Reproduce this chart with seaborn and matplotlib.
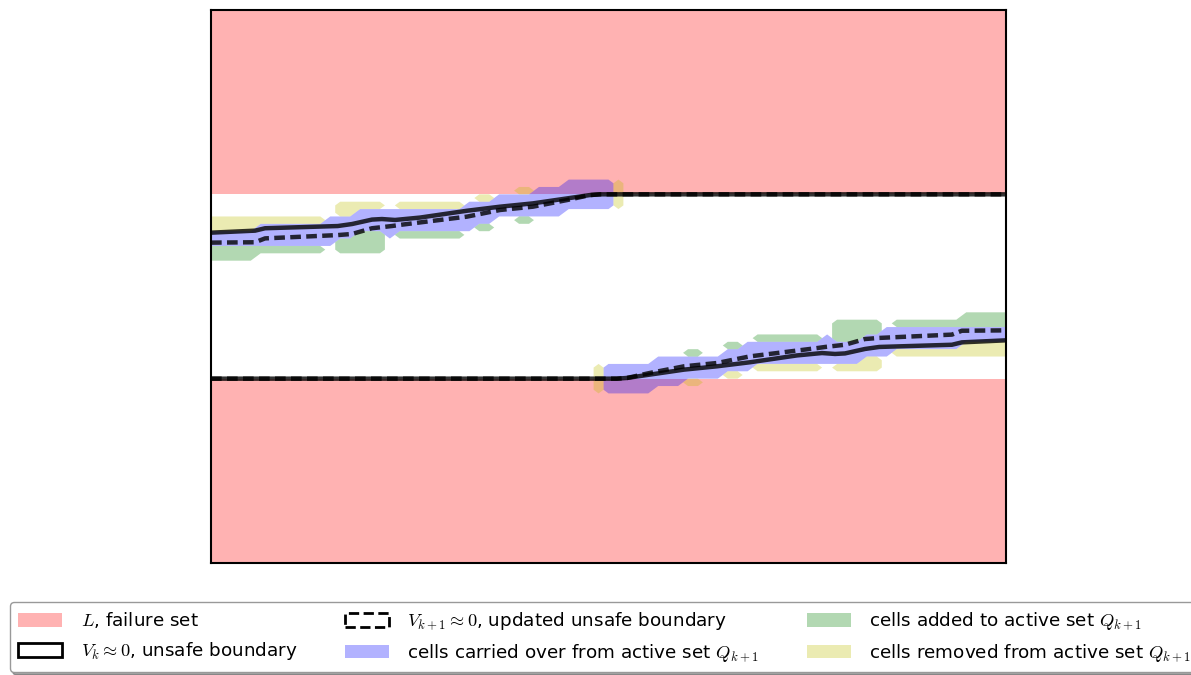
import numpy as np
import matplotlib
matplotlib.use("Agg")
import matplotlib.pyplot as plt
from matplotlib.patches import Patch
import seaborn as sns

# ---------------- data ----------------
# failure set L : |y| > 0.5
failure_x = [-1.0, 1.0]
failure_upper = [0.5, 1.5]
failure_lower = [-1.5, -0.5]

# V_k ~ 0 (solid) and V_{k+1} ~ 0 (dashed) boundaries, upper branch
upper_solid_x = [-1.0, -0.889, -0.864, -0.681, -0.645, -0.595, -0.570, -0.537, -0.474,
                 -0.356, -0.273, -0.190, -0.104, -0.047, -0.021, 1.0]
upper_solid_y = [0.292, 0.303, 0.316, 0.328, 0.339, 0.363, 0.366, 0.361, 0.374,
                 0.411, 0.433, 0.451, 0.478, 0.496, 0.5, 0.5]
upper_dashed_x = [-1.0, -0.889, -0.864, -0.681, -0.645, -0.595, -0.545, -0.525, -0.356,
                  -0.273, -0.190, -0.104, -0.047, -0.021, 1.0]
upper_dashed_y = [0.238, 0.240, 0.261, 0.279, 0.285, 0.316, 0.328, 0.334, 0.379,
                  0.415, 0.433, 0.469, 0.496, 0.5, 0.5]
# lower branch
lower_solid_x = [-1.0, 0.021, 0.047, 0.104, 0.190, 0.273, 0.356, 0.474, 0.537, 0.570,
                 0.595, 0.645, 0.681, 0.864, 0.889, 1.0]
lower_solid_y = [-0.5, -0.5, -0.496, -0.478, -0.451, -0.433, -0.411, -0.374, -0.361, -0.366,
                 -0.363, -0.339, -0.328, -0.316, -0.303, -0.292]
lower_dashed_x = [-1.0, 0.021, 0.047, 0.104, 0.190, 0.273, 0.356, 0.525, 0.545, 0.595,
                  0.645, 0.681, 0.864, 0.889, 1.0]
lower_dashed_y = [-0.5, -0.5, -0.496, -0.469, -0.433, -0.415, -0.379, -0.334, -0.328, -0.316,
                  -0.285, -0.279, -0.261, -0.240, -0.238]

# grid cells, as blocks (x0, x1, y0, y1)
carried_cells = [
    (-1.05, -0.8875, 0.22, 0.30), (-0.8875, -0.7125, 0.22, 0.34), (-0.7125, -0.6875, 0.22, 0.38),
    (-0.6875, -0.6375, 0.26, 0.38), (-0.6375, -0.5625, 0.30, 0.42), (-0.5625, -0.5375, 0.26, 0.42),
    (-0.5375, -0.3625, 0.30, 0.42), (-0.3625, -0.3375, 0.30, 0.46), (-0.3375, -0.2875, 0.34, 0.46),
    (-0.2875, -0.1875, 0.38, 0.50), (-0.1875, -0.1125, 0.38, 0.54), (-0.1125, 0.0125, 0.42, 0.58),
    (0.8875, 1.05, -0.30, -0.22), (0.7125, 0.8875, -0.34, -0.22), (0.6875, 0.7125, -0.38, -0.22),
    (0.6375, 0.6875, -0.38, -0.26), (0.5625, 0.6375, -0.42, -0.30), (0.5375, 0.5625, -0.42, -0.26),
    (0.3625, 0.5375, -0.42, -0.30), (0.3375, 0.3625, -0.46, -0.30), (0.2875, 0.3375, -0.46, -0.34),
    (0.1875, 0.2875, -0.50, -0.38), (0.1125, 0.1875, -0.54, -0.38), (-0.0125, 0.1125, -0.58, -0.42),
]
added_cells = [
    (-1.05, -0.8875, 0.14, 0.22), (-0.8875, -0.7125, 0.18, 0.22), (-0.6875, -0.6375, 0.18, 0.26),
    (-0.6375, -0.5625, 0.18, 0.30), (-0.5375, -0.3625, 0.26, 0.30), (-0.3375, -0.2875, 0.30, 0.34),
    (-0.2375, -0.1875, 0.34, 0.38),
    (0.8875, 1.05, -0.22, -0.14), (0.7125, 0.8875, -0.22, -0.18), (0.6375, 0.6875, -0.26, -0.18),
    (0.5625, 0.6375, -0.30, -0.18), (0.3625, 0.5375, -0.30, -0.26), (0.2875, 0.3375, -0.34, -0.30),
    (0.1875, 0.2375, -0.38, -0.34),
]
removed_cells = [
    (-1.05, -0.8875, 0.30, 0.38), (-0.8875, -0.7125, 0.34, 0.38), (-0.6875, -0.6375, 0.38, 0.46),
    (-0.6375, -0.5625, 0.42, 0.46), (-0.5375, -0.3625, 0.42, 0.46), (-0.3375, -0.2875, 0.46, 0.50),
    (-0.2375, -0.1875, 0.50, 0.54), (0.0125, 0.0375, 0.42, 0.58),
    (0.8875, 1.05, -0.38, -0.30), (0.7125, 0.8875, -0.38, -0.34), (0.6375, 0.6875, -0.46, -0.38),
    (0.5625, 0.6375, -0.46, -0.42), (0.3625, 0.5375, -0.46, -0.42), (0.2875, 0.3375, -0.50, -0.46),
    (0.1875, 0.2375, -0.54, -0.50), (-0.0375, -0.0125, -0.58, -0.42),
]

legend_labels = [
    r"$L$, failure set",
    r"$V_k \approx 0$, unsafe boundary",
    r"$V_{k+1} \approx 0$, updated unsafe boundary",
    r"cells carried over from active set $Q_{k+1}$",
    r"cells added to active set $Q_{k+1}$",
    r"cells removed from active set $Q_{k+1}$",
]

# ---------------- style ----------------
sns.set_style("white", {"axes.edgecolor": "black", "text.color": "black"})
plt.rcParams["font.family"] = ["DejaVu Sans"]
plt.rcParams["mathtext.fontset"] = "cm"
plt.rcParams["axes.linewidth"] = 1.5

fig = plt.figure(figsize=(11.91, 6.75), dpi=100)
ax = fig.add_axes([211 / 1191, 112 / 675, 795 / 1191, 553 / 675])

# failure set
ax.fill_between(failure_x, failure_upper[0], failure_upper[1], color="red", alpha=0.3, lw=0)
ax.fill_between(failure_x, failure_lower[0], failure_lower[1], color="red", alpha=0.3, lw=0)

# cell grid
gx = np.arange(-40, 41) * 0.025
gy = np.arange(-38, 39) * 0.04
GX, GY = np.meshgrid(gx, gy)


def cell_mask(blocks):
    m = np.zeros_like(GX)
    for x0, x1, y0, y1 in blocks:
        m[(GX > x0) & (GX < x1) & (GY > y0) & (GY < y1)] = 1.0
    return m


for blocks, col in [(carried_cells, "blue"), (added_cells, "green"), (removed_cells, "y")]:
    ax.contourf(GX, GY, cell_mask(blocks), levels=[0.5, 1.5], colors=[col], alpha=0.3,
                antialiased=True)

# boundaries
dash = (0, (2.4, 1.2))
for xs, ys, ls in [(upper_solid_x, upper_solid_y, "-"), (lower_solid_x, lower_solid_y, "-"),
                   (upper_dashed_x, upper_dashed_y, dash), (lower_dashed_x, lower_dashed_y, dash)]:
    sns.lineplot(x=xs, y=ys, ax=ax, sort=False, estimator=None, color="black", lw=3.2,
                 alpha=0.8, linestyle=ls, legend=False)

ax.set_xlim(-1, 1)
ax.set_ylim(-1.5, 1.5)
ax.set_xticks([])
ax.set_yticks([])
for s in ax.spines.values():
    s.set_visible(True)
    s.set_color("black")
    s.set_linewidth(1.5)

handles = [
    Patch(facecolor=(1, 0, 0, 0.3), edgecolor="none"),
    Patch(facecolor="white", edgecolor="black", lw=2),
    Patch(facecolor="white", edgecolor="black", lw=2, linestyle="--"),
    Patch(facecolor=(0, 0, 1, 0.3), edgecolor="none"),
    Patch(facecolor=(0, 0.5, 0, 0.3), edgecolor="none"),
    Patch(facecolor=(0.75, 0.75, 0, 0.3), edgecolor="none"),
]
leg = fig.legend(handles, legend_labels, ncol=3, loc="upper left",
                 bbox_to_anchor=(10 / 1191, 1 - 602 / 675), bbox_transform=fig.transFigure,
                 borderaxespad=0, fontsize=13.2, frameon=True, fancybox=True, shadow=True,
                 handlelength=2.4, handleheight=0.75, handletextpad=1.0,
                 columnspacing=2.6, labelspacing=0.55, borderpad=0.45)
leg.get_frame().set_edgecolor("0.6")
for t in leg.get_texts():
    t.set_color("black")

fig.savefig("out.png", dpi=100)
